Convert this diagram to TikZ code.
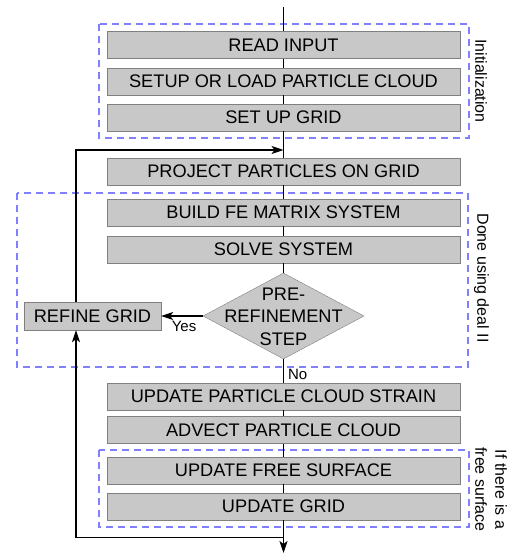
\documentclass[tikz,border=0pt]{standalone}
\usepackage{fontspec}
\setmainfont{Liberation Sans}
\usetikzlibrary{shapes.geometric,arrows.meta}
\definecolor{boxgray}{RGB}{200,200,200}
\definecolor{edgegray}{RGB}{128,128,128}
\definecolor{groupblue}{RGB}{128,128,255}
\tikzstyle{stepbox}=[draw=edgegray, fill=boxgray, minimum width=353pt, minimum height=27pt, inner sep=0pt, font=\fontsize{18.2}{22}\selectfont]
\tikzstyle{decision}=[diamond, draw=edgegray, fill=boxgray, minimum width=161pt, minimum height=86pt, inner sep=0pt]
\tikzstyle{group}=[draw=groupblue, line width=1.2pt, dash pattern=on 7pt off 5pt]
\tikzstyle{sidelabel}=[rotate=-90, align=center, inner sep=0pt, font=\fontsize{16}{20}\selectfont]
\tikzstyle{flow}=[line width=1.3pt, black]
\tikzstyle{tip}=[-{Stealth[length=12pt, width=8pt, inset=3pt]}]

\begin{document}
\begin{tikzpicture}[x=1pt, y=-1pt]
        \useasboundingbox (0,0) rectangle (512,555);

        % Dashed groups
        \draw[group] (99,24) rectangle (469,138);
        \draw[group] (17,193) rectangle (468,367);
        \draw[group] (99,450) rectangle (469,527);

        \node[sidelabel] (initlabel) at (481,81) {Initialization};
        \node[sidelabel] (deallabel) at (481.5,278) {Done using deal II};
        \node[sidelabel] (freelabel) at (491,489.5) {If there is a\\free surface};

        % Steps of one time step, top to bottom
        \coordinate (top) at (283.5,7);
        \node[stepbox] (read) at (283.5,45) {READ INPUT};
        \node[stepbox] (setup) at (283.5,81.2) {SETUP OR LOAD PARTICLE CLOUD};
        \node[stepbox] (setgrid) at (283.5,117.5) {SET UP GRID};
        \node[stepbox] (project) at (283.5,171.5) {PROJECT PARTICLES ON GRID};
        \node[stepbox] (build) at (283.5,212.5) {BUILD FE MATRIX SYSTEM};
        \node[stepbox] (solve) at (283.5,249.5) {SOLVE SYSTEM};
        \node[decision] (pre) at (283.5,316) {};
        \node[align=center, inner sep=0pt, font=\fontsize{18.2}{22.5}\selectfont] (pretext) at (283.5,316.7) {PRE-\\REFINEMENT\\STEP};
        \node[stepbox, minimum width=137pt, minimum height=28pt] (refine) at (92.5,316) {REFINE GRID};
        \node[stepbox] (strain) at (283.5,396.5) {UPDATE PARTICLE CLOUD STRAIN};
        \node[stepbox] (advect) at (283.5,430) {ADVECT PARTICLE CLOUD};
        \node[stepbox] (freesurf) at (283.5,470.5) {UPDATE FREE SURFACE};
        \node[stepbox] (updgrid) at (283.5,506.5) {UPDATE GRID};
        \coordinate (bottom) at (283.5,553);

        % Main flow
        \draw[flow] (top) -- (read);
        \draw[flow] (read) -- (setup);
        \draw[flow] (setup) -- (setgrid);
        \draw[flow] (setgrid) -- (project);
        \draw[flow] (project) -- (build);
        \draw[flow] (build) -- (solve);
        \draw[flow] (solve) -- (pre);
        \draw[flow] (pre.south) -- node[pos=0.65, anchor=west, inner sep=3pt, xshift=1pt, font=\fontsize{15}{18}\selectfont] (no) {No} (strain.north);
        \draw[flow] (strain) -- (advect);
        \draw[flow] (advect) -- (freesurf);
        \draw[flow] (freesurf) -- (updgrid);
        \draw[flow, tip] (updgrid) -- (bottom);

        % Refinement loop
        \coordinate (join) at (283.5,150);
        \coordinate (loop) at (76,150);
        \coordinate (back) at (283.5,537.5);
        \draw[flow, tip] (pre.west) -- node[pos=0.45, below, inner sep=2pt, yshift=-2.5pt, font=\fontsize{15}{18}\selectfont] (yes) {Yes} (refine.east);
        \draw[flow, tip] (loop |- refine.north) -- (loop) -- (join);
        \draw[flow, tip] (back) -| (loop |- refine.south);
    \end{tikzpicture}
\end{document}
